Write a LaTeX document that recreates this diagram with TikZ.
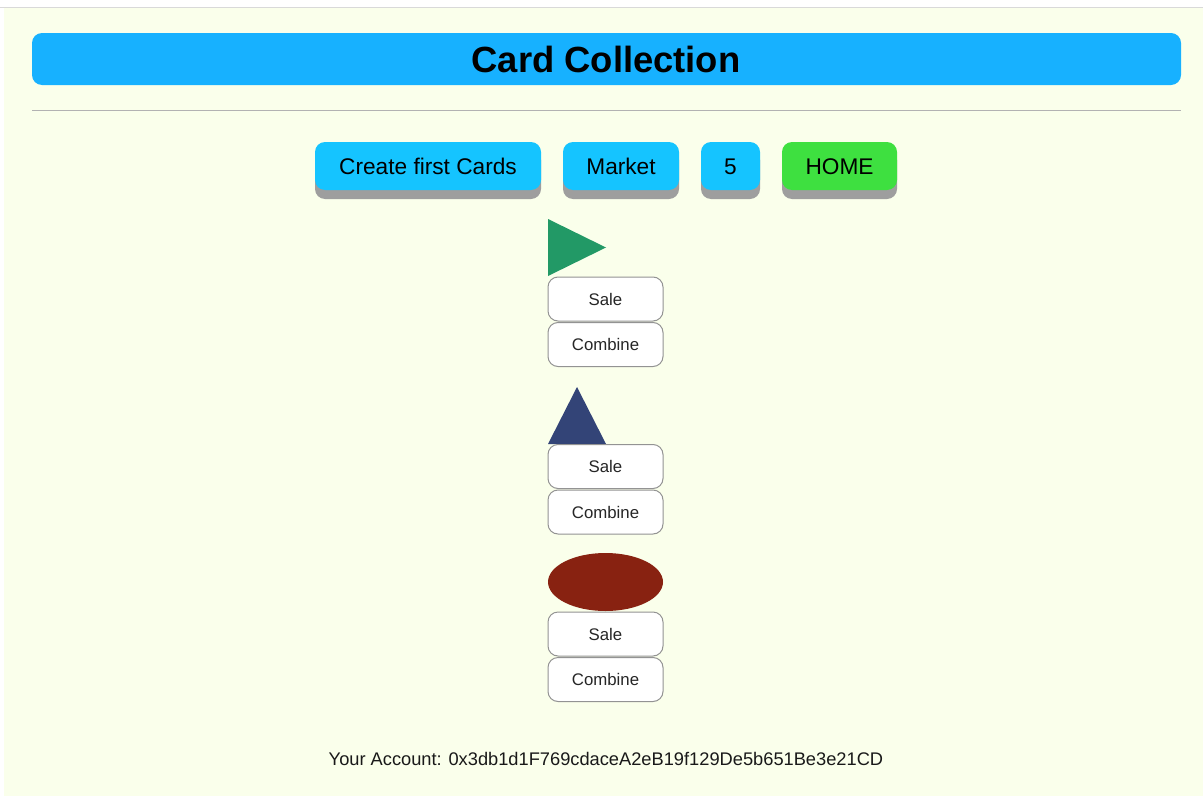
\documentclass[tikz,border=0pt]{standalone}
\usepackage{fontspec}
\setmainfont{Liberation Sans}
\usetikzlibrary{shapes.geometric}
\definecolor{pagebg}{HTML}{FAFFEB}
\definecolor{headblue}{HTML}{17B1FF}
\definecolor{btnblue}{HTML}{15C4FF}
\definecolor{btngreen}{HTML}{3EE040}
\definecolor{shadowgray}{HTML}{9E9E9E}
\definecolor{cardgreen}{HTML}{229966}
\definecolor{cardnavy}{HTML}{334477}
\definecolor{cardred}{HTML}{882211}
\tikzset{
  navbtn/.style={rounded corners=7.5, inner sep=0pt, anchor=north west},
  smallbtn/.style={draw=gray!85, line width=0.75pt, fill=white, rounded corners=7.5,
    minimum width=86.25pt, minimum height=33pt, inner sep=0pt, font=\fontsize{12.6pt}{14pt}\selectfont, text=black!85},
}
\begin{document}
\begin{tikzpicture}[x=0.75pt,y=-0.75pt]
\useasboundingbox (0,0) rectangle (1203,796);
\fill[white] (0,0) rectangle (1203,796);
\fill[pagebg] (4,7) rectangle (1203,796);
\draw[gray!30, line width=1.2pt] (0,7.5) -- (1203,7.5);
% header
\fill[headblue, rounded corners=7.5] (32,33) rectangle (1181,85);
\node[font=\bfseries\fontsize{27.3pt}{30pt}\selectfont] (title) at (606,59) {Card Collection};
\draw[gray!60, line width=0.6pt] (32,110) -- (1181,110);
% nav buttons
\foreach \nm/\xa/\xb/\col/\txt in {b1/315/541/btnblue/Create first Cards, b2/563/679/btnblue/Market, b3/701/760/btnblue/5, b4/782/897/btngreen/HOME}{
  \fill[shadowgray, rounded corners=7.5] (\xa,150) rectangle (\xb,199);
  \fill[\col, rounded corners=7.5] (\xa,142) rectangle (\xb,190);
  \node[font=\fontsize{17pt}{20pt}\selectfont] (\nm) at ({(\xa+\xb)/2},166.5) {\txt};
}
% card 1
\fill[cardgreen] (548,219) -- (548,276) -- (606,247.5) -- cycle;
\node[smallbtn] (sale1) at (605.5,299) {Sale};
\node[smallbtn] (comb1) at (605.5,344.5) {Combine};
% card 2
\fill[cardnavy] (577,387) -- (606,444) -- (548,444) -- cycle;
\node[smallbtn] (sale2) at (605.5,466.5) {Sale};
\node[smallbtn] (comb2) at (605.5,512) {Combine};
% card 3
\node[ellipse, fill=cardred, minimum width=86.25pt, minimum height=43.5pt, inner sep=0pt] (ell) at (605.5,582) {};
\node[smallbtn] (sale3) at (605.5,634) {Sale};
\node[smallbtn] (comb3) at (605.5,679.5) {Combine};
% account
\node[font=\fontsize{13.7pt}{16pt}\selectfont, text=black!90] (acct) at (606,759) {Your Account: 0x3db1d1F769cdaceA2eB19f129De5b651Be3e21CD};
\end{tikzpicture}
\end{document}
